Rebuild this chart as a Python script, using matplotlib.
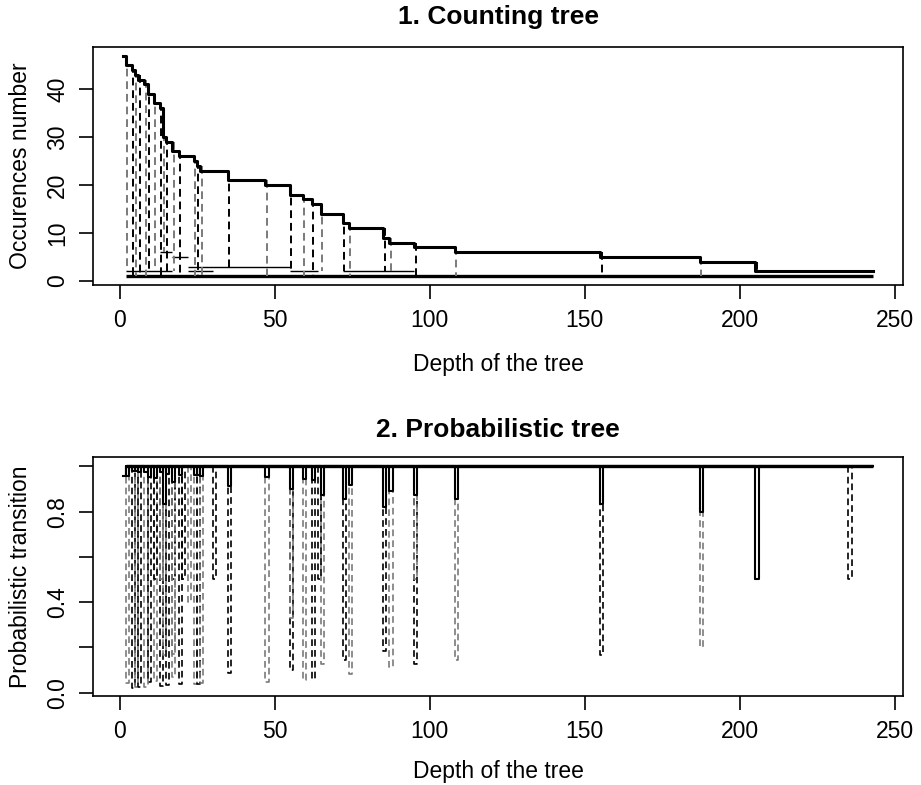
import numpy as np
import matplotlib.pyplot as plt

plt.rcParams['font.family'] = ['Liberation Sans', 'DejaVu Sans']

# main path of the counting tree: depth where the count changes and the count from there on
main_depth = [1, 2, 4, 5, 6, 8, 9, 11, 13, 14, 15, 17, 19, 24, 25, 26, 35, 47,
              55, 59, 62, 65, 72, 74, 85, 87, 95, 108, 155, 187, 205, 243]
main_count = [47, 45, 44, 43, 42, 41, 39, 37, 36, 30, 29, 27, 26, 25, 24, 23, 21, 20,
              18, 17, 16, 14, 12, 11, 9, 8, 7, 6, 5, 4, 2, 2]

# side branches that carry more than one occurence for a while
side_start = [2, 13, 17, 22, 22, 55, 72, 205]
side_end = [17, 17, 22, 55, 30, 64, 95, 235]
side_count = [2, 6, 5, 3, 2, 2, 2, 2]

# splits inside the side branches (depth, smaller transition)
split_depth = [11, 13, 17, 17, 20, 22, 30, 55, 64, 95, 235]
split_prob = [0.5, 0.5, 0.5, 0.17, 0.5, 0.4, 0.5, 0.33, 0.5, 0.5, 0.5]

# single occurences all end up on this level
leaf_level = 1
leaf_start = 2
leaf_end = 243

x_ticks = [0, 50, 100, 150, 200, 250]
dash = (0, (4, 2.5))
cols = ['black', '#7a7a7a']


def style_axes(ax):
    for s in ax.spines.values():
        s.set_linewidth(1.2)
    ax.set_xlim(-8.68, 252.68)
    ax.set_xticks(x_ticks)
    ax.tick_params(axis='both', direction='out', length=10, width=1.2,
                   labelsize=16.5, pad=7)
    for lab in ax.get_yticklabels():
        lab.set_rotation(90)
        lab.set_va('center')


fig = plt.figure(figsize=(9.21, 7.85), dpi=100)
ax1 = fig.add_axes([0.1007, 0.637, 0.8801, 0.3035])
ax2 = fig.add_axes([0.1007, 0.1134, 0.8801, 0.3041])

# ---- 1. counting tree
ax1.hlines(leaf_level, leaf_start, leaf_end, color='black', lw=2.4)
ax1.hlines(side_count, side_start, side_end, color='black', lw=1.0)
for i in range(1, len(main_depth) - 1):
    a = main_count[i - 1]
    b = main_count[i]
    d = main_depth[i]
    ax1.plot([d + 0.4, d + 0.4], [a, a - b], color=cols[i % 2], lw=1.4, ls=dash)
ax1.step(main_depth, main_count, where='post', color='black', lw=2.2)

ax1.set_ylim(-0.84, 48.84)
ax1.set_yticks([0, 10, 20, 30, 40])
style_axes(ax1)
ax1.set_ylabel('Occurences number', fontsize=16.5, va='center')
ax1.yaxis.set_label_coords(-0.0897, 0.5)
ax1.set_xlabel('Depth of the tree', fontsize=16.5, va='center')
ax1.xaxis.set_label_coords(0.5, -0.334)
ax1.text(0.5, 1.125, '1. Counting tree', transform=ax1.transAxes,
         ha='center', va='center', fontsize=19, fontweight='bold')

# ---- 2. probabilistic tree
# first node: transition of the root into the main path
p0 = main_count[1] / main_count[0]
xs = [main_depth[0], main_depth[1]]
ys = [p0, p0]
for i in range(1, len(main_depth) - 1):
    a = main_count[i - 1]
    b = main_count[i]
    d = main_depth[i]
    p = b / a
    xs += [d, d, d + 1, d + 1]
    ys += [1.0, p, p, 1.0]
    q = (a - b) / a
    ax2.plot([d, d, d + 1, d + 1], [1.0, q, q, 1.0], color=cols[i % 2], lw=1.2, ls=dash)
for j in range(len(split_depth)):
    d = split_depth[j]
    q = split_prob[j]
    ax2.plot([d, d, d + 1, d + 1], [1.0, q, q, 1.0], color=cols[j % 2], lw=1.2, ls=dash)
xs.append(main_depth[-1])
ys.append(1.0)
ax2.plot(xs, ys, color='black', lw=1.5)
ax2.hlines(1.0, main_depth[1], main_depth[-1], color='black', lw=2.4)

ax2.set_ylim(-0.015, 1.04)
ax2.set_yticks([0.0, 0.2, 0.4, 0.6, 0.8, 1.0])
ax2.set_yticklabels(['0.0', '', '0.4', '', '0.8', ''])
style_axes(ax2)
ax2.set_ylabel('Probabilistic transition', fontsize=16.5, va='center')
ax2.yaxis.set_label_coords(-0.0897, 0.5)
ax2.set_xlabel('Depth of the tree', fontsize=16.5, va='center')
ax2.xaxis.set_label_coords(0.5, -0.318)
ax2.text(0.5, 1.115, '2. Probabilistic tree', transform=ax2.transAxes,
         ha='center', va='center', fontsize=19, fontweight='bold')

fig.savefig('out.png', dpi=100)
